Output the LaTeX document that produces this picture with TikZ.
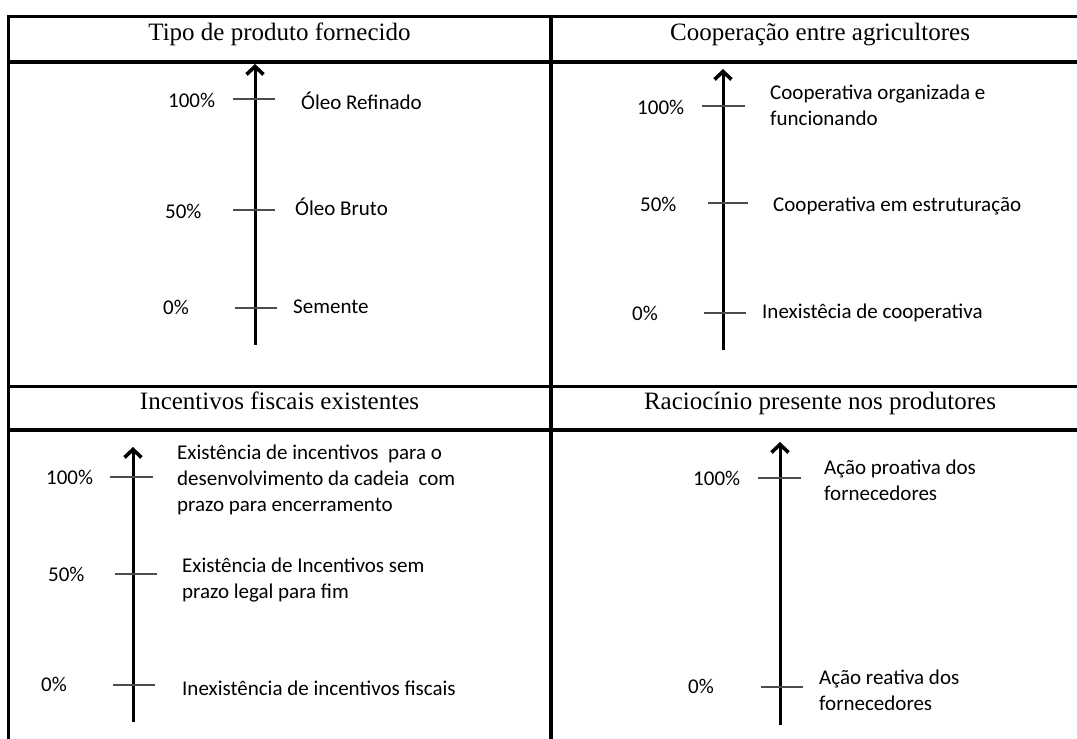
\documentclass[tikz,border=0pt]{standalone}
\usepackage{fontspec}
\setmainfont{Liberation Serif}
\newfontfamily\labelfont{Carlito}
\usepackage{xcolor}
\usepackage{tikz}
\usetikzlibrary{arrows.meta}

\begin{document}
\begin{tikzpicture}[x=1pt,y=-1pt,
		tablerule/.style={line width=3.2pt},
		axisline/.style={line width=3pt,-{Straight Barb[length=8pt,width=17pt,line width=3.6pt]}},
		scalemark/.style={line width=2pt,black!70},
		heading/.style={anchor=base,inner sep=0pt,font=\fontsize{25}{30}\selectfont},
		pct/.style={inner sep=0pt,font=\labelfont\fontsize{21}{26}\selectfont},
		desc/.style={inner sep=0pt,align=left,font=\labelfont\fontsize{21}{26}\selectfont}]
		\tikzstyle{every node}=[anchor=west]
		\useasboundingbox (0,0) rectangle (1077,739);

		% table
		\draw[tablerule] (8.3,739) -- (8.3,16.5) -- (1077,16.5);
		\draw[tablerule] (8.3,62) -- (1077,62);
		\draw[tablerule] (8.3,386.5) -- (1077,386.5);
		\draw[tablerule] (8.3,430) -- (1077,430);
		\draw[tablerule] (551,16.5) -- (551,739);

		\node[heading] (tipoHead) at (279.5,40) {Tipo de produto fornecido};
		\node[heading] (coopHead) at (820,40) {Cooperação entre agricultores};
		\node[heading] (incHead) at (279.5,409) {Incentivos fiscais existentes};
		\node[heading] (racHead) at (820,409) {Raciocínio presente nos produtores};

		% tipo de produto
		\coordinate (tipoBot) at (255,345);
		\coordinate (tipoTop) at (255,64);
		\draw[axisline] (tipoBot) -- (tipoTop);
		\draw[scalemark] (233,99) -- (275,99);
		\draw[scalemark] (233,210) -- (275,210);
		\draw[scalemark] (235,308) -- (277,308);
		\node[pct] (tipoP100) at (168,100) {100\%};
		\node[pct] (tipoP50) at (165,211) {50\%};
		\node[pct] (tipoP0) at (163,307) {0\%};
		\node[desc] (tipoD100) at (301,101) {Óleo Refinado};
		\node[desc] (tipoD50) at (295,207) {Óleo Bruto};
		\node[desc] (tipoD0) at (293,307) {Semente};

		% cooperacao
		\coordinate (coopBot) at (723,350);
		\coordinate (coopTop) at (723,69);
		\draw[axisline] (coopBot) -- (coopTop);
		\draw[scalemark] (702,106) -- (745,106);
		\draw[scalemark] (708,203) -- (748,203);
		\draw[scalemark] (704,313) -- (746,313);
		\node[pct] (coopP100) at (637,107) {100\%};
		\node[pct] (coopP50) at (640,204) {50\%};
		\node[pct] (coopP0) at (632,313) {0\%};
		\node[desc] (coopD100) at (770,105.5) {Cooperativa organizada e\\funcionando};
		\node[desc] (coopD50) at (773,206) {Cooperativa em estruturação};
		\node[desc] (coopD0) at (762,313) {Inexistêcia de cooperativa};

		% incentivos
		\coordinate (incBot) at (133,722);
		\coordinate (incTop) at (133,447);
		\draw[axisline] (incBot) -- (incTop);
		\draw[scalemark] (110,477) -- (153,477);
		\draw[scalemark] (115,574) -- (157,574);
		\draw[scalemark] (113,685) -- (155,685);
		\node[pct] (incP100) at (46,477) {100\%};
		\node[pct] (incP50) at (48,574) {50\%};
		\node[pct] (incP0) at (41,684) {0\%};
		\node[desc] (incD100) at (177,480) {Existência de incentivos\ \ para o\\desenvolvimento da cadeia\ \ com\\prazo para encerramento};
		\node[desc] (incD50) at (182,580.5) {Existência de Incentivos sem\\prazo legal para fim};
		\node[desc] (incD0) at (182,688) {Inexistência de incentivos fiscais};

		% raciocinio
		\coordinate (racBot) at (780,725);
		\coordinate (racTop) at (780,442);
		\draw[axisline] (racBot) -- (racTop);
		\draw[scalemark] (758,478) -- (801,478);
		\draw[scalemark] (761,687) -- (803,687);
		\node[pct] (racP100) at (693,478) {100\%};
		\node[pct] (racP0) at (688,686) {0\%};
		\node[desc] (racD100) at (824,480.5) {Ação proativa dos\\fornecedores};
		\node[desc] (racD0) at (819,690) {Ação reativa dos\\fornecedores};
	\end{tikzpicture}
\end{document}
